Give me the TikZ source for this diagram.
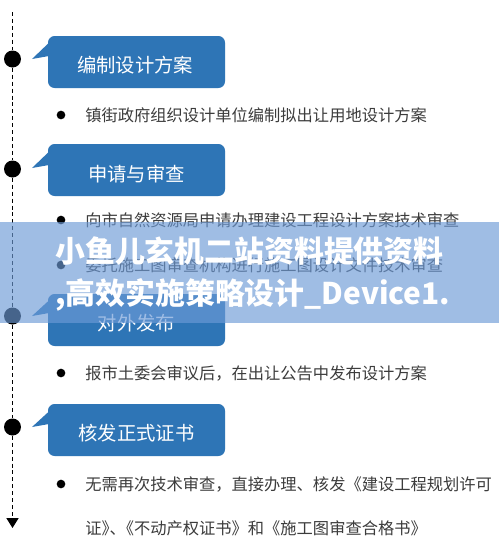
\documentclass[tikz,border=0pt]{standalone}
\usepackage{fontspec}
\setmainfont{Noto Sans CJK SC}
\newfontfamily\cjk{Noto Sans CJK SC}
\usetikzlibrary{arrows.meta,calc}
\definecolor{boxblue}{RGB}{46,117,182}
\definecolor{txtgray}{RGB}{60,60,60}
\definecolor{bannerblue}{RGB}{108,154,215}
\tikzset{
  timeline/.style={line width=1.3pt, dash pattern=on 3pt off 2.2pt, black},
  tdot/.style={circle, fill=black, inner sep=0pt, minimum size=12.75pt},
  stagebox/.style={fill=boxblue, rounded corners=5pt, inner sep=0pt, minimum width=132.75pt, minimum height=39pt},
  notch/.style={fill=boxblue},
  stagelabel/.style={text=white, font=\cjk\fontsize{14.5pt}{16pt}\selectfont, inner sep=0pt},
  bul/.style={circle, fill=black, inner sep=0pt, minimum size=6.5pt},
  item/.style={anchor=west, text=txtgray, font=\cjk\fontsize{12.2pt}{14pt}\selectfont, inner sep=0pt},
  banner/.style={fill=bannerblue, opacity=0.65},
  bannertxt/.style={anchor=west, text=white, font=\cjk\bfseries\fontsize{22.4pt}{26pt}\selectfont, inner sep=0pt}
}
\begin{document}
\begin{tikzpicture}[x=0.75pt,y=-0.75pt]
\fill[white] (0,0) rectangle (499,547);
\useasboundingbox (0,0) rectangle (499,547);

% timeline
\coordinate (top) at (12.5,12);
\node[tdot] (t1) at (12.5,59) {};
\node[tdot] (t2) at (12.5,169) {};
\node[tdot] (t3) at (12.5,316) {};
\node[tdot] (t4) at (12.5,427) {};
\coordinate (bot) at (12.5,528);
\draw[timeline] (top) -- (t1) -- (t2) -- (t3) -- (t4);
\draw[timeline, -{Triangle[width=9pt,length=7.5pt]}] (t4) -- (bot);

% stage boxes
\node[stagebox] (b1) at (136.5,62) {};
\fill[notch] (32,59) -- (56,36) -- (49,56) -- cycle;
\node[stagelabel] (l1) at (135,65.5) {编制设计方案};

\node[stagebox] (b2) at (136.5,170) {};
\fill[notch] (32,168) -- (56,145) -- (49,165) -- cycle;
\node[stagelabel] (l2) at (136.5,174) {申请与审查};

\node[stagebox] (b3) at (136.5,320) {};
\fill[notch] (32,316) -- (56,294) -- (49,313) -- cycle;
\node[stagelabel] (l3) at (136.5,323) {对外发布};

\node[stagebox] (b4) at (136.5,430) {};
\fill[notch] (32,427) -- (56,405) -- (49,424) -- cycle;
\node[stagelabel] (l4) at (136.5,433) {核发正式证书};

% items
\node[bul] (d1) at (61,115) {};
\node[item] (i1) at (85,115) {镇街政府组织设计单位编制拟出让用地设计方案};
\node[bul] (d2) at (61,220) {};
\node[item] (i2) at (85,220) {向市自然资源局申请办理建设工程设计方案技术审查};
\node[bul] (d3) at (61,265) {};
\node[item] (i3) at (85,265) {委托施工图审查机构进行施工图设计文件技术审查};
\node[bul] (d4) at (61,373) {};
\node[item] (i4) at (85,373) {报市土委会审议后，在出让公告中发布设计方案};
\node[bul] (d5) at (61,484) {};
\node[item] (i5) at (85,484) {无需再次技术审查，直接办理、核发《建设工程规划许可};
\node[item] (i6) at (85,528) {证》\kern-0.5em、\kern-0.5em《不动产权证书》和《施工图审查合格书》};

% banner overlay
\fill[banner] (0,222) rectangle (499,323);
\node[bannertxt] (bt1) at (55,251) {小鱼儿玄机二站资料提供资料};
\node[bannertxt] (bt2) at (55,295) {,高效实施策略设计\_Device1.};
\end{tikzpicture}
\end{document}
